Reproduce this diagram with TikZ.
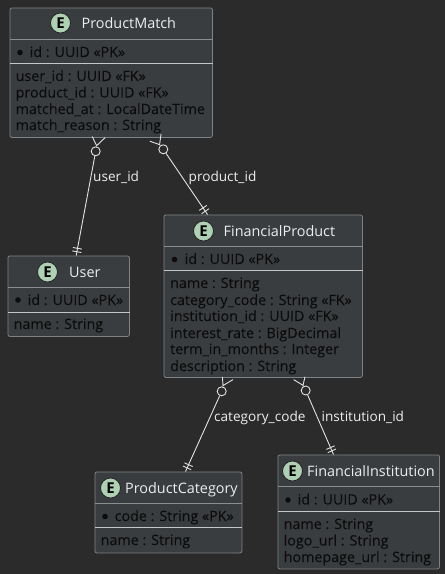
\documentclass[tikz,border=0pt]{standalone}
\usepackage{fontspec}
\setmainfont{Open Sans}
\newfontfamily\attrfont[FakeBold=0.15]{Open Sans}
\definecolor{bgc}{HTML}{2B2B2B}
\definecolor{boxc}{HTML}{3A3D40}
\definecolor{edgec}{HTML}{7E8285}
\definecolor{sepc}{HTML}{8A8E91}
\definecolor{sepb}{HTML}{C4C6C8}
\definecolor{titlec}{HTML}{EDEDED}
\definecolor{attrc}{HTML}{0C0C0C}
\definecolor{linec}{HTML}{E2E2E2}
\definecolor{spotc}{HTML}{ADD1B2}
\tikzset{
  x=1pt,y=-1pt,
  entity/.style={draw=edgec,fill=boxc,rounded corners=2pt,line width=.8pt,inner sep=0pt,anchor=north west},
  titletext/.style={text=titlec,font=\fontsize{14.4}{16}\selectfont,anchor=base west,inner sep=0pt},
  attr/.style={text=attrc,font=\attrfont\fontsize{14.3}{16}\selectfont,anchor=base west,inner sep=0pt},
  linktext/.style={text=titlec,font=\fontsize{13.6}{15}\selectfont,anchor=base west,inner sep=0pt},
  spot/.style={circle,draw=black!85,fill=spotc,line width=.8pt,minimum size=20pt,inner sep=0pt,text=black,font=\fontsize{15}{15}\selectfont\bfseries},
  ring/.style={circle,draw=linec,fill=bgc,line width=.9pt,minimum size=9pt,inner sep=0pt},
  conn/.style={draw=linec,line width=.9pt},
  sep1/.style={draw=sepc,line width=.8pt},
  sep2/.style={draw=sepb,line width=.8pt},
  dotmark/.style={fill=attrc},
}
\newcommand{\entitybox}[7]{% name x y w h sep1 sep2 (offsets)
  \node[entity,minimum width=#4pt,minimum height=#5pt] (#1) at (#2,#3) {};
  \draw[sep1] ([yshift=-#6pt]#1.north west) -- ([yshift=-#6pt]#1.north east);
  \draw[sep2] ([yshift=-#7pt]#1.north west) -- ([yshift=-#7pt]#1.north east);
}
\begin{document}
\begin{tikzpicture}
\useasboundingbox (0,0) rectangle (445,574);
\fill[bgc] (0,0) rectangle (445,574);
% boxes
\entitybox{pm}{9.5}{7.5}{202.5}{129.5}{32}{55.5}
\entitybox{us}{7.5}{255.5}{121.5}{80.5}{32}{56.5}
\entitybox{fp}{163.5}{214.5}{198.5}{162.5}{32}{56}
\entitybox{pc}{94.5}{471.5}{147}{81}{32}{56}
\entitybox{fi}{277.5}{454.5}{161.5}{114}{32}{57}
% ProductMatch
\node[spot] (pms) at (60.5,23) {E};
\node[titletext] (pmt) at (81.5,28) {ProductMatch};
\fill[dotmark] (20,52.5) circle (2.8pt);
\node[attr] (pma) at (29.5,57) {id : UUID «PK»};
\node[attr] (pmb) at (15.5,81) {user\_id : UUID «FK»};
\node[attr] (pmc) at (15.5,97.5) {product\_id : UUID «FK»};
\node[attr] (pmd) at (15.5,114) {matched\_at : LocalDateTime};
\node[attr] (pme) at (15.5,130) {match\_reason : String};
% User
\node[spot] (uss) at (47.5,272) {E};
\node[titletext] (ust) at (69,277) {User};
\fill[dotmark] (18,300) circle (2.8pt);
\node[attr] (usa) at (27.5,305) {id : UUID «PK»};
\node[attr] (usb) at (13.5,329) {name : String};
% FinancialProduct
\node[spot] (fps) at (203.5,231) {E};
\node[titletext] (fpt) at (223.5,236) {FinancialProduct};
\fill[dotmark] (174.5,259.5) circle (2.8pt);
\node[attr] (fpa) at (184.5,264) {id : UUID «PK»};
\node[attr] (fpb) at (170,288) {name : String};
\node[attr] (fpc) at (170,305) {category\_code : String «FK»};
\node[attr] (fpd) at (170,321) {institution\_id : UUID «FK»};
\node[attr] (fpe) at (170,338) {interest\_rate : BigDecimal};
\node[attr] (fpf) at (170,354) {term\_in\_months : Integer};
\node[attr] (fpg) at (170,371) {description : String};
% ProductCategory
\node[spot] (pcs) at (110.5,488) {E};
\node[titletext] (pct) at (125,493) {ProductCategory};
\fill[dotmark] (105,516.5) circle (2.8pt);
\node[attr] (pca) at (114.5,521) {code : String «PK»};
\node[attr] (pcb) at (100.5,545) {name : String};
% FinancialInstitution
\node[spot] (fis) at (292.5,471) {E};
\node[titletext] (fit) at (307,476) {FinancialInstitution};
\fill[dotmark] (288,500) circle (2.8pt);
\node[attr] (fia) at (297.5,504.5) {id : UUID «PK»};
\node[attr] (fib) at (283.5,529) {name : String};
\node[attr] (fic) at (283.5,545.5) {logo\_url : String};
\node[attr] (fid) at (283.5,562) {homepage\_url : String};
% rings and crow-foot apexes
\node[ring] (r1) at (95.7,151.3) {};
\node[ring] (r2) at (163.3,149.3) {};
\node[ring] (r3) at (221.7,391.3) {};
\node[ring] (r4) at (305.7,390.5) {};
\coordinate (a1) at (96.6,145.7);
\coordinate (a2) at (159.6,144.6);
\coordinate (a3) at (223,385.6);
\coordinate (a4) at (303,385.3);
% connectors
\draw[conn] (r1) -- ([xshift=68.7pt]us.north west);
\draw[conn] (r2) -- ([xshift=44pt]fp.north west);
\draw[conn] (r3) -- ([xshift=91pt]pc.north west);
\draw[conn] (r4) -- ([xshift=56pt]fi.north west);
% crow feet
\draw[conn] (r1) -- (a1) (92.2,136.5) -- (a1) -- (105.2,137.5);
\draw[conn] (r2) -- (a2) (149.8,141.2) -- (a2) -- (161,134);
\draw[conn] (r3) -- (a3) (222.4,376.8) -- (a3) -- (233,379.6);
\draw[conn] (r4) -- (a4) (293.6,379.6) -- (a4) -- (305,376.8);
% bars
\draw[conn] (72.9,247.5) -- (81.9,249.1) (72.3,250.9) -- (81.3,252.5);
\draw[conn] (201.6,213.7) -- (209,208.7) (199.3,210.4) -- (206.7,205.4);
\draw[conn] (183,466.05) -- (191.2,469.75) (184.5,462.85) -- (192.7,466.55);
\draw[conn] (327.8,452.6) -- (336,449) (326.4,449.4) -- (334.6,445.8);
% labels
\node[linktext] (l1) at (93,181) {user\_id};
\node[linktext] (l2) at (188.5,181) {product\_id};
\node[linktext] (l3) at (214,421) {category\_code};
\node[linktext] (l4) at (321.5,421) {institution\_id};
\end{tikzpicture}
\end{document}
